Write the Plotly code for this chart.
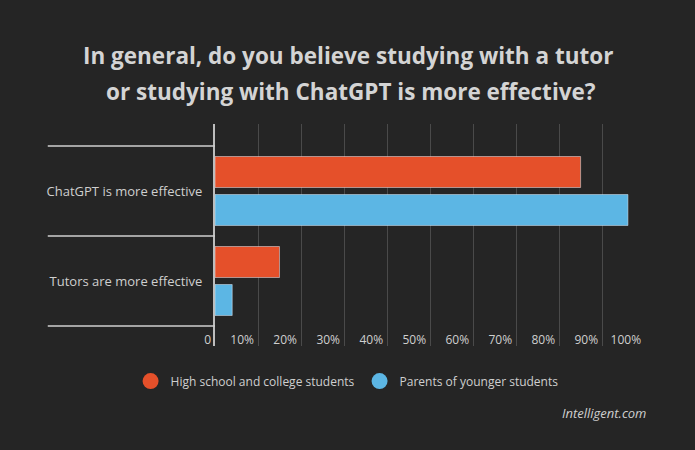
import plotly.graph_objects as go

categories = ["ChatGPT is more effective", "Tutors are more effective"]
students = [85, 15]
parents = [96, 4]
series_names = ["High school and college students", "Parents of younger students"]
tick_vals = [0, 10, 20, 30, 40, 50, 60, 70, 80, 90, 100]
tick_text = ["0", "10%", "20%", "30%", "40%", "50%", "60%", "70%", "80%", "90%", "100%"]
title_lines = ["In general, do you believe studying with a tutor",
               "or studying with ChatGPT is more effective?"]
source = "Intelligent.com"

BG = "#252525"
ORANGE = "#E5502A"
BLUE = "#5CB6E4"
TXT = "#cfcfcf"
FONT = "'Open Sans', Lato, sans-serif"

fig = go.Figure()
fig.add_trace(go.Bar(y=categories, x=students, orientation="h", marker_color=ORANGE,
                     name=series_names[0], showlegend=False))
fig.add_trace(go.Bar(y=categories, x=parents, orientation="h", marker_color=BLUE,
                     name=series_names[1], showlegend=False))
for nm, col in zip(series_names, [ORANGE, BLUE]):
    fig.add_trace(go.Scatter(x=[None], y=[None], mode="markers", name=nm,
                             marker=dict(color=col, size=16, symbol="circle")))

shapes = []
for yv in [-0.5, 0.5, 1.5]:
    shapes.append(dict(type="line", xref="paper", yref="y", x0=-0.388, x1=0, y0=yv, y1=yv,
                       line=dict(color="#cfcfcf", width=1.5)))

fig.update_layout(
    width=695, height=450,
    paper_bgcolor=BG, plot_bgcolor=BG,
    margin=dict(l=215, r=49, t=124, b=104, autoexpand=False),
    barmode="group", bargap=0.156, bargroupgap=0.184,
    font=dict(family=FONT, color=TXT, size=12),
    shapes=shapes,
    xaxis=dict(range=[0, 100.2], tickvals=tick_vals, ticktext=tick_text,
               showgrid=True, gridcolor="#4a4a4a", gridwidth=1, zeroline=False,
               showline=False, ticks="", ticklabelposition="inside left",
               ticklabeloverflow="allow", ticklabelshift=-4, ticklabelstandoff=-6,
               automargin=False,
               tickfont=dict(size=12, color=TXT, family=FONT)),
    yaxis=dict(type="category", range=[1.7222, -0.7444], showgrid=False, zeroline=False,
               showline=True, linecolor="#bdbdbd", linewidth=2, ticks="",
               automargin=False,
               ticklabelstandoff=8, tickfont=dict(size=13, color=TXT, family=FONT)),
    legend=dict(orientation="h", x=(347 - 215) / 430.7, xanchor="center",
                y=-0.158, yanchor="middle",
                font=dict(size=12, color=TXT, family=FONT), bgcolor="rgba(0,0,0,0)",
                itemwidth=30),
    annotations=[
        dict(text=title_lines[0], xref="paper", yref="paper", x=(348 - 215) / 430.7, y=(346 - 55) / 222,
             xanchor="center", yanchor="middle", showarrow=False,
             font=dict(size=22.5, color="#d4d4d4", family=FONT, weight="bold")),
        dict(text=title_lines[1], xref="paper", yref="paper", x=(351 - 215) / 430.7, y=(346 - 91) / 222,
             xanchor="center", yanchor="middle", showarrow=False,
             font=dict(size=22.5, color="#d4d4d4", family=FONT, weight="bold")),
        dict(text="<i>" + source + "</i>", xref="paper", yref="paper", x=(648 - 215) / 430.7,
             y=(346 - 413) / 222, xanchor="right", yanchor="middle", showarrow=False,
             font=dict(size=13, color="#cfcfcf", family=FONT)),
    ],
)

fig.write_html("out.html", post_script="document.body.style.margin='0';",
               config={"displayModeBar": False})
